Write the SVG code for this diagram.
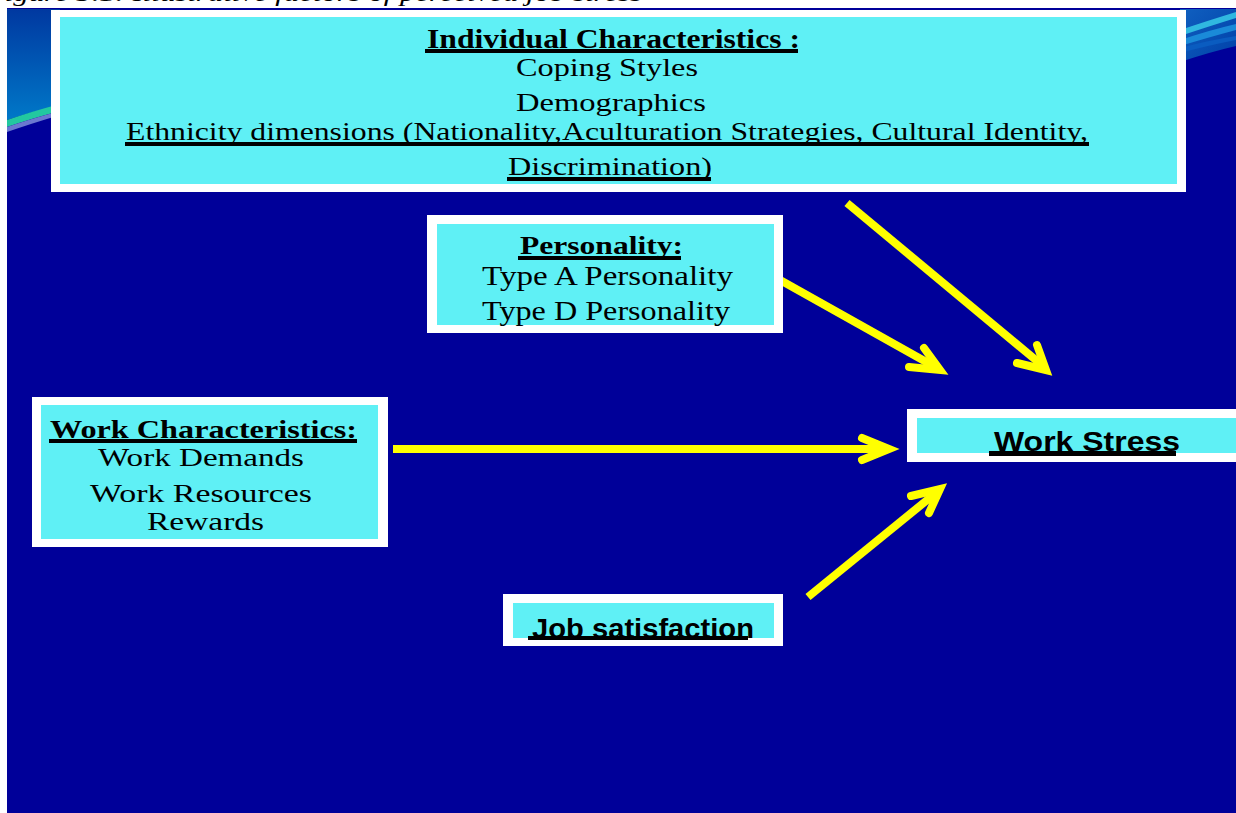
<svg xmlns="http://www.w3.org/2000/svg" width="1236" height="813" viewBox="0 0 1236 813">
  <style>
    .frame { fill: #ffffff; }
    .panel { fill: #5ff0f5; }
    .serif { font-family: "Liberation Serif", "Times New Roman", serif; fill: #000000; }
    .head { font-weight: bold; }
    .sans { font-family: "Liberation Sans", Arial, sans-serif; font-weight: bold; fill: #000000; }
    .rule { fill: #000000; }
    .arrow { fill: none; stroke: #ffff00; stroke-width: 8; }
    .shaft { stroke-linecap: butt; }
    .tip { stroke-linecap: round; stroke-linejoin: miter; stroke-miterlimit: 10; }
  </style>
  <defs>
    <linearGradient id="cornerLeft" x1="0" y1="0" x2="0" y2="1">
      <stop offset="0" stop-color="#0038a0"/>
      <stop offset="1" stop-color="#0078c8"/>
    </linearGradient>
    <linearGradient id="cornerRight" x1="0" y1="0" x2="1" y2="1">
      <stop offset="0" stop-color="#1060c0"/>
      <stop offset="1" stop-color="#0040a8"/>
    </linearGradient>
  </defs>

  <!-- page and slide background -->
  <rect x="0" y="0" width="1236" height="813" fill="#ffffff"/>
  <text class="serif" x="-14" y="1" font-size="24" font-style="italic" textLength="656" lengthAdjust="spacingAndGlyphs">Figure 3.1: Illustrative factors of perceived job stress</text>
  <rect x="7" y="8" width="1229" height="805" fill="#000099"/>

  <!-- corner swooshes -->
  <path d="M7 9 H60 V106 Q30 112 7 120 Z" fill="url(#cornerLeft)"/>
  <path d="M7 120 Q30 112 60 104 V111 Q30 119 7 127 Z" fill="#22c8a0"/>
  <path d="M7 127 Q30 119 60 111 V115 Q30 124 7 132 Z" fill="#6a78d0"/>
  <path d="M1180 9 H1236 V46 Q1210 52 1180 62 Z" fill="url(#cornerRight)"/>
  <path d="M1180 30 Q1210 20 1236 12 V18 Q1210 26 1180 36 Z" fill="#30b8e0"/>
  <path d="M1180 40 Q1210 30 1236 24 V30 Q1210 37 1180 46 Z" fill="#1a8ad8"/>
  <path d="M1180 48 Q1210 40 1236 36 V40 Q1210 45 1180 53 Z" fill="#0a5cc0"/>

  <!-- connectors -->
  <g id="connectors">
    <g id="edge-individual-stress">
      <path class="arrow shaft" d="M847 203 L1043 366"/>
      <path class="arrow tip" d="M1037 345 L1046 370 L1017 363"/>
    </g>
    <g id="edge-personality-stress">
      <path class="arrow shaft" d="M780 280 L937 368"/>
      <path class="arrow tip" d="M924 348 L940 370 L909 367"/>
    </g>
    <g id="edge-work-stress">
      <path class="arrow shaft" d="M393 449 L886 449"/>
      <path class="arrow tip" d="M862 438 L889 449 L862 460"/>
    </g>
    <g id="edge-job-stress">
      <path class="arrow shaft" d="M808 597 L937 492"/>
      <path class="arrow tip" d="M911 496 L940 489 L929 513"/>
    </g>
  </g>

  <!-- Individual characteristics -->
  <g id="node-individual">
    <rect class="frame" x="51" y="10" width="1135" height="182"/>
    <rect class="panel" x="60" y="17" width="1117" height="167"/>
    <text class="serif head" x="427" y="48" font-size="27" textLength="373" lengthAdjust="spacingAndGlyphs">Individual Characteristics :</text>
    <rect class="rule" x="425" y="49" width="373" height="4"/>
    <text class="serif" x="516" y="76" font-size="26" textLength="182" lengthAdjust="spacingAndGlyphs">Coping Styles</text>
    <text class="serif" x="516" y="111" font-size="26" textLength="190" lengthAdjust="spacingAndGlyphs">Demographics</text>
    <text class="serif" x="126" y="140" font-size="26" textLength="962" lengthAdjust="spacingAndGlyphs">Ethnicity dimensions (Nationality,Aculturation Strategies, Cultural Identity,</text>
    <rect class="rule" x="125" y="142" width="964" height="4"/>
    <text class="serif" x="508" y="175" font-size="26" textLength="204" lengthAdjust="spacingAndGlyphs">Discrimination)</text>
    <rect class="rule" x="507" y="177" width="204" height="4"/>
  </g>

  <!-- Personality -->
  <g id="node-personality">
    <rect class="frame" x="427" y="215" width="356" height="118"/>
    <rect class="panel" x="437" y="224" width="337" height="101"/>
    <text class="serif head" x="520" y="254" font-size="26" textLength="163" lengthAdjust="spacingAndGlyphs">Personality:</text>
    <rect class="rule" x="518" y="256" width="163" height="4"/>
    <text class="serif" x="482" y="285" font-size="27" textLength="251" lengthAdjust="spacingAndGlyphs">Type A Personality</text>
    <text class="serif" x="482" y="320" font-size="27" textLength="248" lengthAdjust="spacingAndGlyphs">Type D Personality</text>
  </g>

  <!-- Work characteristics -->
  <g id="node-work">
    <rect class="frame" x="32" y="397" width="356" height="150"/>
    <rect class="panel" x="41" y="405" width="337" height="134"/>
    <text class="serif head" x="50" y="438" font-size="26" textLength="307" lengthAdjust="spacingAndGlyphs">Work Characteristics:</text>
    <rect class="rule" x="49" y="439" width="308" height="4"/>
    <text class="serif" x="98" y="466" font-size="26" textLength="206" lengthAdjust="spacingAndGlyphs">Work Demands</text>
    <text class="serif" x="90" y="502" font-size="26" textLength="222" lengthAdjust="spacingAndGlyphs">Work Resources</text>
    <text class="serif" x="147" y="530" font-size="26" textLength="117" lengthAdjust="spacingAndGlyphs">Rewards</text>
  </g>

  <!-- Work stress -->
  <g id="node-stress">
    <rect class="frame" x="907" y="409" width="329" height="53"/>
    <rect class="panel" x="917" y="418" width="319" height="35"/>
    <text class="sans" x="994" y="451" font-size="28" textLength="186" lengthAdjust="spacingAndGlyphs">Work Stress</text>
    <rect class="rule" x="989" y="451" width="187" height="5"/>
  </g>

  <!-- Job satisfaction -->
  <g id="node-job">
    <rect class="frame" x="503" y="594" width="280" height="52"/>
    <rect class="panel" x="513" y="603" width="261" height="35"/>
    <text class="sans" x="532" y="638" font-size="28" textLength="222" lengthAdjust="spacingAndGlyphs">Job satisfaction</text>
    <rect class="rule" x="528" y="636" width="220" height="4"/>
  </g>
</svg>
